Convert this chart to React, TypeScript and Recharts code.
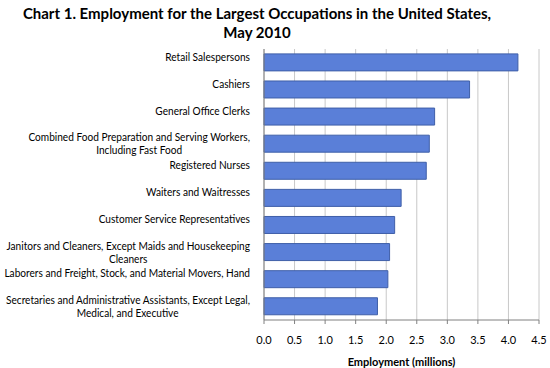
import React from 'react'
import { BarChart, Bar, XAxis, YAxis, CartesianGrid, Label } from 'recharts'

const occupations = [
  'Retail Salespersons',
  'Cashiers',
  'General Office Clerks',
  'Combined Food Preparation and Serving Workers,|Including Fast Food',
  'Registered Nurses',
  'Waiters and Waitresses',
  'Customer Service Representatives',
  'Janitors and Cleaners, Except Maids and Housekeeping|Cleaners',
  'Laborers and Freight, Stock, and Material Movers, Hand',
  'Secretaries and Administrative Assistants, Except Legal,|Medical, and Executive',
]

const employment = [4.155, 3.364, 2.792, 2.705, 2.655, 2.244, 2.138, 2.055, 2.027, 1.857]

const xTicks = [0, 0.5, 1, 1.5, 2, 2.5, 3, 3.5, 4, 4.5]

const data = occupations.map((name, i) => ({ name, value: employment[i] }))

const FONT = 'Lato, "Open Sans", sans-serif'
const LABEL_SIZE = 11.5
// original uses a narrow Calibri-like face; squeeze Lato horizontally to match
const SQUEEZE = 0.88

let ctx: CanvasRenderingContext2D | null = null
const measure = (s: string) => {
  if (!ctx) ctx = document.createElement('canvas').getContext('2d')
  if (!ctx) return s.length * 5.4
  ctx.font = `${LABEL_SIZE}px Lato`
  return ctx.measureText(s).width
}

const OccupationTick = ({ x, y, payload }: { x?: number; y?: number; payload?: { value: string } }) => {
  const lines = (payload?.value ?? '').split('|')
  const lineH = 13
  // one-line labels sit a little above the band centre, as in the original
  const startY = lines.length === 1 ? (y ?? 0) - 6 : (y ?? 0) - ((lines.length - 1) * lineH) / 2
  const right = (x ?? 0) - 6
  const cx = right - measure(lines[0]) / 2
  return (
    <g transform={`translate(${right},0) scale(${SQUEEZE},1) translate(${-right},0)`}>
      {lines.map((ln, i) => (
        <text
          key={i}
          x={i === 0 ? right : cx}
          y={startY + i * lineH}
          dy="0.35em"
          textAnchor={i === 0 ? 'end' : 'middle'}
          fill="#000"
          fontFamily={FONT}
          fontSize={LABEL_SIZE}
        >
          {ln}
        </text>
      ))}
    </g>
  )
}

export default function App() {
  return (
    <div style={{ position: 'fixed', top: 0, left: 0, width: 550, height: 368, background: '#fff' }}>
      <div
        style={{
          position: 'absolute',
          top: 4,
          left: 0,
          width: 514,
          textAlign: 'center',
          fontFamily: FONT,
          fontWeight: 700,
          fontSize: 15,
          lineHeight: '19px',
          color: '#000',
        }}
      >
        Chart 1. Employment for the Largest Occupations in the United States,
        <br />
        May 2010
      </div>
      <BarChart
        width={550}
        height={368}
        data={data}
        layout="vertical"
        barCategoryGap="18%"
        margin={{ top: 49, right: 11, bottom: 0, left: 0 }}
      >
        <CartesianGrid vertical horizontal={false} stroke="#c8c8c8" />
        <XAxis
          type="number"
          domain={[0, 4.5]}
          ticks={xTicks}
          tickFormatter={(v: number) => v.toFixed(1)}
          height={48}
          stroke="#808080"
          tickSize={4}
          tick={{ fill: '#000', fontFamily: FONT, fontSize: 11 }}
          tickMargin={12}
        >
          <Label
            value="Employment (millions)"
            position="insideBottom"
            offset={2}
            style={{ fill: '#000', fontFamily: FONT, fontSize: 11, fontWeight: 700 }}
          />
        </XAxis>
        <YAxis
          type="category"
          dataKey="name"
          width={264}
          stroke="#808080"
          tickLine={false}
          interval={0}
          tick={<OccupationTick />}
        />
        <Bar dataKey="value" fill="#5a7fd8" stroke="#3f5fa8" strokeWidth={1} isAnimationActive={false} />
      </BarChart>
    </div>
  )
}
